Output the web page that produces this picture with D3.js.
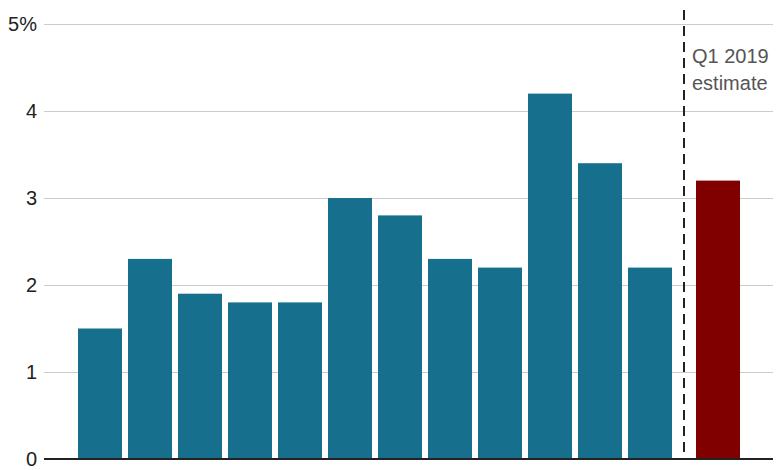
<!DOCTYPE html>
<html>
<head>
<meta charset="utf-8">
<script src="https://cdn.jsdelivr.net/npm/d3@7"></script>
<style>
  html, body { margin: 0; padding: 0; background: #fff; }
  svg { display: block; font-family: "Liberation Sans", Arial, Helvetica, sans-serif; }
</style>
</head>
<body>
<svg id="chart" width="780" height="470"></svg>
<script>
// Data
const quarters = ["Q1 2016","Q2 2016","Q3 2016","Q4 2016","Q1 2017","Q2 2017","Q3 2017","Q4 2017","Q1 2018","Q2 2018","Q3 2018","Q4 2018"];
const growth = [1.5, 2.3, 1.9, 1.8, 1.8, 3.0, 2.8, 2.3, 2.2, 4.2, 3.4, 2.2];
const estimateLabel = ["Q1 2019"];
const estimateValue = [3.2];
const yTicks = [0, 1, 2, 3, 4, 5];
const annotationLines = ["Q1 2019", "estimate"];

const svg = d3.select("#chart");

const y = d3.scaleLinear().domain([0, 5]).range([459, 24]);

const x = d3.scaleBand().domain(quarters).range([75, 675]).paddingInner(0.12).paddingOuter(0.06);
const xEst = d3.scaleBand().domain(estimateLabel).range([684, 752]).paddingInner(0).paddingOuter(0.2727);

const gridLeft = 44, gridRight = 773;

// Gridlines
svg.append("g").selectAll("line").data(yTicks.filter(d => d > 0)).join("line")
  .attr("x1", gridLeft).attr("x2", gridRight)
  .attr("y1", d => Math.round(y(d)) + 0.5).attr("y2", d => Math.round(y(d)) + 0.5)
  .attr("stroke", "#cccccc").attr("stroke-width", 1);

// Y tick labels
svg.append("g").selectAll("text").data(yTicks).join("text")
  .attr("x", 37).attr("y", d => y(d)).attr("dy", "0.36em")
  .attr("text-anchor", "end")
  .attr("font-size", 20).attr("fill", "#222")
  .text(d => d === 5 ? "5%" : d);

// Blue bars
svg.append("g").selectAll("rect").data(growth).join("rect")
  .attr("x", (d, i) => x(quarters[i]))
  .attr("width", x.bandwidth())
  .attr("y", d => y(d))
  .attr("height", d => y(0) - y(d))
  .attr("fill", "#176f8e");

// Estimate bar
svg.append("g").selectAll("rect").data(estimateValue).join("rect")
  .attr("x", (d, i) => xEst(estimateLabel[i]))
  .attr("width", xEst.bandwidth())
  .attr("y", d => y(d))
  .attr("height", d => y(0) - y(d))
  .attr("fill", "#800000");

// Dashed divider
svg.append("line")
  .attr("x1", 684).attr("x2", 684)
  .attr("y1", 10).attr("y2", y(0))
  .attr("stroke", "#222").attr("stroke-width", 2)
  .attr("stroke-dasharray", "10,6");

// Annotation
svg.append("text")
  .attr("x", 692).attr("y", 63)
  .attr("font-size", 20).attr("fill", "#555")
  .selectAll("tspan").data(annotationLines).join("tspan")
  .attr("x", 692).attr("dy", (d, i) => i === 0 ? 0 : 27)
  .text(d => d);

// Baseline
svg.append("line")
  .attr("x1", gridLeft).attr("x2", gridRight)
  .attr("y1", y(0)).attr("y2", y(0))
  .attr("stroke", "#222").attr("stroke-width", 2);
</script>
</body>
</html>
